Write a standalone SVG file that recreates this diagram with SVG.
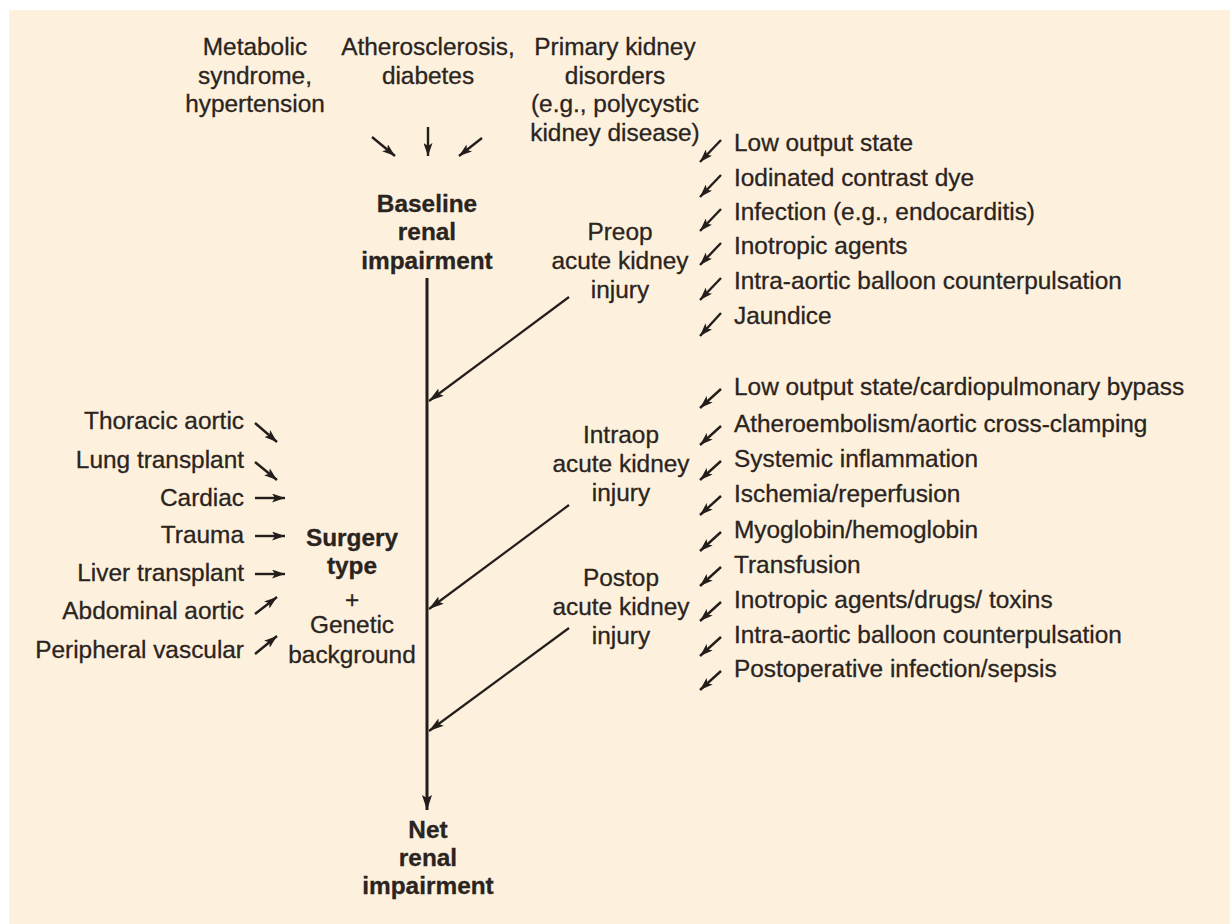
<svg xmlns="http://www.w3.org/2000/svg" width="1230" height="924" viewBox="0 0 1230 924">
<defs>
<style>
text{font-family:"Liberation Sans",Arial,sans-serif;font-size:24.4px;fill:#2a2421;stroke:#2a2421;stroke-width:0.3}
.c{text-anchor:middle}
.r{text-anchor:end}
.b{font-weight:bold}
.sa{stroke:#231e1b;stroke-width:2.4;fill:none;marker-end:url(#ah)}
.la{stroke:#231e1b;stroke-width:2.2;fill:none;marker-end:url(#ahm)}
.main{stroke:#231e1b;stroke-width:3;fill:none;marker-end:url(#ahb)}
</style>
<marker id="ah" viewBox="0 0 13 9" refX="13" refY="4.5" markerWidth="13" markerHeight="9" markerUnits="userSpaceOnUse" orient="auto"><path d="M0,0 L13,4.5 L0,9 L3,4.5 z" fill="#231e1b"/></marker>
<marker id="ahm" viewBox="0 0 15 9" refX="15" refY="4.5" markerWidth="15" markerHeight="9" markerUnits="userSpaceOnUse" orient="auto"><path d="M0,0 L15,4.5 L0,9 L3,4.5 z" fill="#231e1b"/></marker>
<marker id="ahb" viewBox="0 0 15 10" refX="15" refY="5" markerWidth="15" markerHeight="10" markerUnits="userSpaceOnUse" orient="auto"><path d="M0,0 L15,5 L0,10 L3,5 z" fill="#231e1b"/></marker>
</defs>
<rect x="0" y="0" width="1230" height="924" fill="#ffffff"/>
<rect x="9" y="10" width="1221" height="914" fill="#fdf0dc"/>

<g id="metabolic"><text class="c" x="255" y="55">Metabolic</text><text class="c" x="255" y="84">syndrome,</text><text class="c" x="255" y="112">hypertension</text></g>
<g id="athero"><text class="c" x="428" y="55">Atherosclerosis,</text><text class="c" x="428" y="84">diabetes</text></g>
<g id="primary"><text class="c" x="615" y="55">Primary kidney</text><text class="c" x="615" y="84">disorders</text><text class="c" x="615" y="112">(e.g., polycystic</text><text class="c" x="615" y="141">kidney disease)</text></g>
<g id="baseline"><text class="c b" x="427" y="212">Baseline</text><text class="c b" x="427" y="240">renal</text><text class="c b" x="427" y="269">impairment</text></g>
<g id="preop"><text class="c" x="620" y="240">Preop</text><text class="c" x="620" y="269">acute kidney</text><text class="c" x="620" y="298">injury</text></g>
<g id="intraop"><text class="c" x="621" y="443">Intraop</text><text class="c" x="621" y="472">acute kidney</text><text class="c" x="621" y="501">injury</text></g>
<g id="postop"><text class="c" x="621" y="586">Postop</text><text class="c" x="621" y="615">acute kidney</text><text class="c" x="621" y="644">injury</text></g>
<g id="surgery"><text class="c b" x="352" y="546">Surgery</text><text class="c b" x="352" y="574">type</text><text class="c" x="352" y="608">+</text><text class="c" x="352" y="633">Genetic</text><text class="c" x="352" y="663">background</text></g>
<g id="net"><text class="c b" x="428" y="838">Net</text><text class="c b" x="428" y="866">renal</text><text class="c b" x="428" y="894">impairment</text></g>

<g id="preop-factors">
<text x="734" y="151">Low output state</text>
<text x="734" y="186">Iodinated contrast dye</text>
<text x="734" y="220">Infection (e.g., endocarditis)</text>
<text x="734" y="254">Inotropic agents</text>
<text x="734" y="289">Intra-aortic balloon counterpulsation</text>
<text x="734" y="324">Jaundice</text>
</g>
<g id="intra-post-factors">
<text x="734" y="395">Low output state/cardiopulmonary bypass</text>
<text x="734" y="432">Atheroembolism/aortic cross-clamping</text>
<text x="734" y="467">Systemic inflammation</text>
<text x="734" y="502">Ischemia/reperfusion</text>
<text x="734" y="538">Myoglobin/hemoglobin</text>
<text x="734" y="573">Transfusion</text>
<text x="734" y="608">Inotropic agents/drugs/ toxins</text>
<text x="734" y="643">Intra-aortic balloon counterpulsation</text>
<text x="734" y="677">Postoperative infection/sepsis</text>
</g>
<g id="surgery-types">
<text class="r" x="244" y="429">Thoracic aortic</text>
<text class="r" x="244" y="468">Lung transplant</text>
<text class="r" x="244" y="506">Cardiac</text>
<text class="r" x="244" y="543">Trauma</text>
<text class="r" x="244" y="581">Liver transplant</text>
<text class="r" x="244" y="619">Abdominal aortic</text>
<text class="r" x="244" y="658">Peripheral vascular</text>
</g>

<g id="connectors">
<path class="main" d="M427,278 L427,810"/>
<path class="la" d="M569,297 L429,401"/>
<path class="la" d="M569,505 L429,609"/>
<path class="la" d="M569,628 L429,731"/>
<path class="sa" d="M372,137 L395,156"/>
<path class="sa" d="M428,127 L428,156"/>
<path class="sa" d="M482,138 L459,156"/>
<path class="sa" d="M721,140 L700,162"/>
<path class="sa" d="M721,175 L700,197"/>
<path class="sa" d="M721,209 L700,231"/>
<path class="sa" d="M721,243 L700,265"/>
<path class="sa" d="M721,278 L700,300"/>
<path class="sa" d="M721,313 L700,336"/>
<path class="sa" d="M721,389 L700,408"/>
<path class="sa" d="M721,426 L700,445"/>
<path class="sa" d="M721,461 L700,480"/>
<path class="sa" d="M721,496 L700,515"/>
<path class="sa" d="M721,532 L700,551"/>
<path class="sa" d="M721,567 L700,586"/>
<path class="sa" d="M721,602 L700,621"/>
<path class="sa" d="M721,637 L700,656"/>
<path class="sa" d="M721,671 L700,690"/>
<path class="sa" d="M255,423 L277,442"/>
<path class="sa" d="M255,462 L277,480"/>
<path class="sa" d="M255,498 L285,498"/>
<path class="sa" d="M255,536 L285,536"/>
<path class="sa" d="M255,574 L285,574"/>
<path class="sa" d="M255,614 L277,597"/>
<path class="sa" d="M255,654 L277,636"/>
</g>
</svg>
